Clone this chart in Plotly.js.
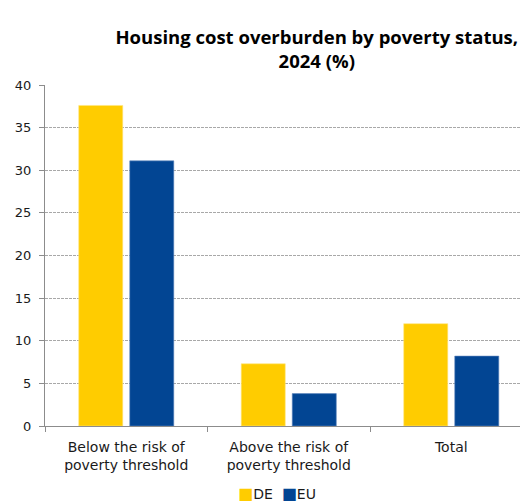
<!DOCTYPE html>
<html>
<head>
<meta charset="utf-8">
<script src="https://cdn.plot.ly/plotly-3.0.1.min.js"></script>
<style>html,body{margin:0;padding:0;background:#fff;overflow:hidden;}#chart{width:521px;height:503px;}</style>
</head>
<body>
<div id="chart"></div>
<script>
var categories = ["Below the risk of<br>poverty threshold", "Above the risk of<br>poverty threshold", "Total"];
var seriesNames = ["DE", "EU"];
var seriesColors = ["#FFCC00", "#024593"];
var deValues = [37.6, 7.3, 12.0];
var euValues = [31.1, 3.8, 8.2];
var yTicks = [0, 5, 10, 15, 20, 25, 30, 35, 40];

var traces = [
  {type: "bar", name: seriesNames[0], x: categories, y: deValues, showlegend: false,
   marker: {color: seriesColors[0], line: {color: "#FFE680", width: 0.6}}},
  {type: "bar", name: seriesNames[1], x: categories, y: euValues, showlegend: false,
   marker: {color: seriesColors[1], line: {color: "#5F86BD", width: 0.6}}}
];

var legendText = seriesNames.map(function (n, i) {
  return "<span style='color:" + seriesColors[i] + ";font-size:16px'>■</span>" + n;
}).join("  ");

var layout = {
  width: 521, height: 503,
  margin: {l: 45, r: 1, t: 85, b: 77},
  paper_bgcolor: "#fff", plot_bgcolor: "#fff",
  barmode: "group", bargap: 0.372, bargroupgap: 0.137,
  font: {family: "DejaVu Sans, Verdana, sans-serif", size: 13, color: "#1a1a1a"},
  title: {text: "<b>Housing cost overburden by poverty status,</b><br><b>2024 (%)</b>",
          font: {family: "Open Sans, sans-serif", size: 18.5, color: "#000", weight: 800},
          x: 0.608, xref: "container", xanchor: "center", y: 0.912, yref: "container", yanchor: "middle"},
  xaxis: {type: "category", range: [-0.5, 2.423], showgrid: false,
          showline: true, linecolor: "#8c8c8c", linewidth: 1,
          ticks: "outside", tickson: "boundaries", ticklen: 5, tickcolor: "#8c8c8c",
          ticklabelstandoff: 8,
          tickfont: {size: 14, color: "#1a1a1a"}, fixedrange: true},
  yaxis: {range: [0, 40], tickvals: yTicks, showgrid: true, gridcolor: "#a8a8a8", griddash: "2.5px,1.5px", gridwidth: 1,
          showline: true, linecolor: "#8c8c8c", linewidth: 1, zeroline: false,
          ticks: "outside", ticklen: 5, tickcolor: "#8c8c8c", ticklabelstandoff: 5,
          tickfont: {size: 13, color: "#1a1a1a"}, fixedrange: true},
  showlegend: false,
  annotations: [{
    text: legendText, showarrow: false,
    xref: "paper", x: (277 - 45) / 475, xanchor: "center",
    yref: "paper", y: (426 - 493) / 341, yanchor: "middle",
    font: {size: 14, color: "#1a1a1a"}
  }]
};

Plotly.newPlot("chart", traces, layout, {displayModeBar: false, staticPlot: true});
</script>
</body>
</html>
